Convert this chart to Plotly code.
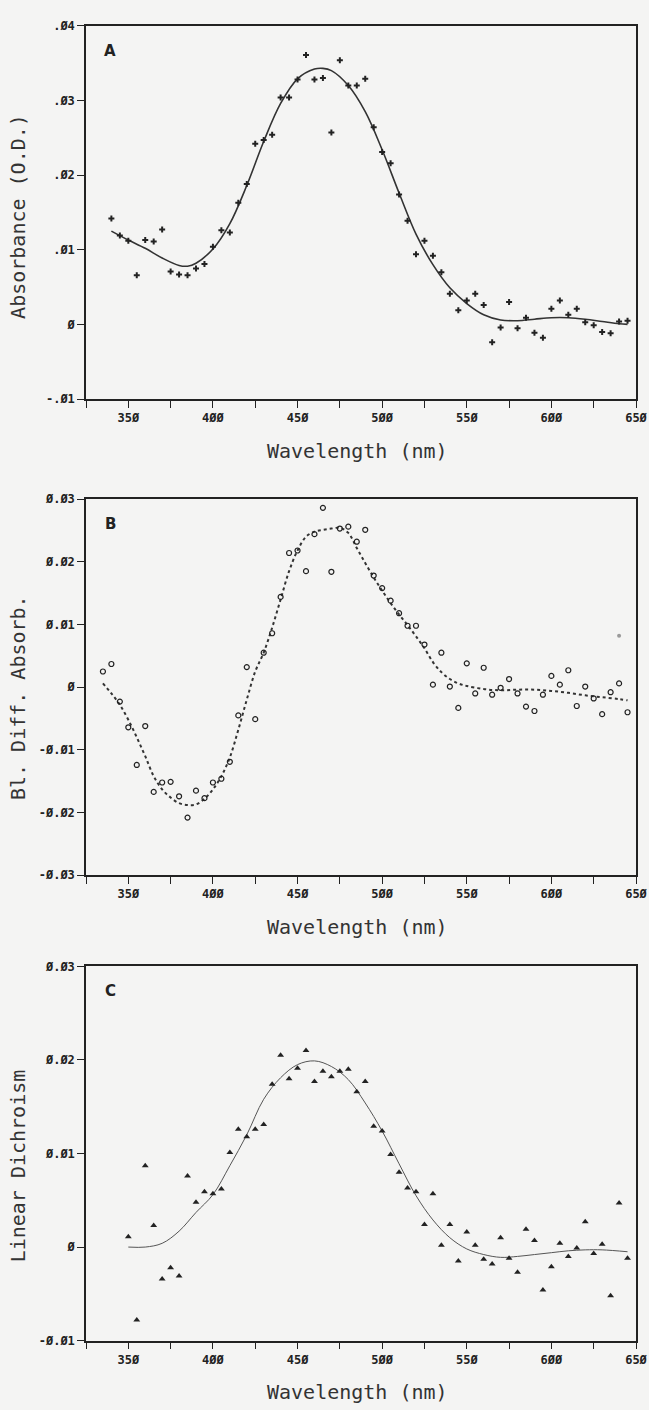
import plotly.graph_objects as go

# ---------------- data ----------------
A_WL = [340, 345, 350, 355, 360, 365, 370, 375, 380, 385, 390, 395, 400, 405, 410, 415,
        420, 425, 430, 435, 440, 445, 450, 455, 460, 465, 470, 475, 480, 485, 490, 495,
        500, 505, 510, 515, 520, 525, 530, 535, 540, 545, 550, 555, 560, 565, 570, 575,
        580, 585, 590, 595, 600, 605, 610, 615, 620, 625, 630, 635, 640, 645]
A_ABS = [0.0142, 0.0119, 0.0112, 0.0066, 0.0113, 0.0111, 0.0127, 0.0071, 0.0067, 0.0066,
         0.0075, 0.0081, 0.0104, 0.0126, 0.0123, 0.0163, 0.0188, 0.0242, 0.0247, 0.0254,
         0.0304, 0.0304, 0.0328, 0.0361, 0.0328, 0.0330, 0.0257, 0.0354, 0.0320, 0.0320,
         0.0329, 0.0264, 0.0231, 0.0216, 0.0174, 0.0139, 0.0094, 0.0112, 0.0092, 0.0070,
         0.0041, 0.0019, 0.0032, 0.0041, 0.0026, -0.0024, -0.0004, 0.0030, -0.0005, 0.0009,
         -0.0011, -0.0018, 0.0021, 0.0032, 0.0013, 0.0021, 0.0003, -0.0001, -0.0010, -0.0012,
         0.0004, 0.0005]
A_FIT_WL = [340, 350, 360, 370, 380, 385, 390, 400, 410, 420, 430, 440, 450, 460, 465, 470,
            480, 490, 500, 510, 520, 530, 540, 550, 560, 570, 580, 590, 600, 610, 620, 630,
            640, 645]
A_FIT = [0.0125, 0.0113, 0.0102, 0.0089, 0.0079, 0.0078, 0.0082, 0.0101, 0.0135, 0.0186,
         0.0245, 0.0296, 0.0329, 0.0342, 0.0343, 0.0340, 0.0320, 0.0285, 0.0234, 0.0176,
         0.0121, 0.0080, 0.0049, 0.0028, 0.0013, 0.0006, 0.0005, 0.0007, 0.0009, 0.0009,
         0.0007, 0.0004, 0.0001, 0.0000]

B_WL = [335, 340, 345, 350, 355, 360, 365, 370, 375, 380, 385, 390, 395, 400, 405, 410,
        415, 420, 425, 430, 435, 440, 445, 450, 455, 460, 465, 470, 475, 480, 485, 490,
        495, 500, 505, 510, 515, 520, 525, 530, 535, 540, 545, 550, 555, 560, 565, 570,
        575, 580, 585, 590, 595, 600, 605, 610, 615, 620, 625, 630, 635, 640, 645]
B_ABS = [0.0025, 0.0037, -0.0023, -0.0064, -0.0124, -0.0062, -0.0167, -0.0152, -0.0151,
         -0.0174, -0.0208, -0.0165, -0.0177, -0.0152, -0.0146, -0.0119, -0.0045, 0.0032,
         -0.0051, 0.0055, 0.0086, 0.0144, 0.0214, 0.0218, 0.0185, 0.0244, 0.0286, 0.0184,
         0.0253, 0.0256, 0.0232, 0.0251, 0.0178, 0.0158, 0.0138, 0.0118, 0.0098, 0.0098,
         0.0068, 0.0004, 0.0055, 0.0001, -0.0033, 0.0038, -0.0010, 0.0031, -0.0012, -0.0001,
         0.0013, -0.0010, -0.0031, -0.0038, -0.0012, 0.0018, 0.0004, 0.0027, -0.0030, 0.0001,
         -0.0018, -0.0043, -0.0008, 0.0006, -0.0040]
B_STRAY_WL = [640]
B_STRAY = [0.0082]
B_FIT_WL = [335, 340, 345, 350, 355, 360, 365, 370, 375, 380, 385, 390, 395, 400, 405, 410,
            415, 420, 425, 430, 435, 440, 445, 450, 455, 460, 465, 470, 475, 480, 485, 490,
            495, 500, 505, 510, 515, 520, 525, 530, 535, 540, 545, 550, 560, 570, 580, 590,
            600, 610, 620, 630, 640, 645]
B_FIT = [0.0006, -0.0010, -0.0028, -0.0052, -0.0080, -0.0110, -0.0142, -0.0163, -0.0176,
         -0.0185, -0.0188, -0.0187, -0.0178, -0.0163, -0.0142, -0.0112, -0.0068, -0.0020,
         0.0025, 0.0055, 0.0095, 0.0140, 0.0185, 0.0218, 0.0240, 0.0248, 0.0251, 0.0253,
         0.0254, 0.0246, 0.0222, 0.0198, 0.0175, 0.0154, 0.0134, 0.0116, 0.0099, 0.0081,
         0.0062, 0.0040, 0.0024, 0.0013, 0.0006, 0.0002, -0.0003, -0.0005, -0.0004, -0.0004,
         -0.0006, -0.0009, -0.0013, -0.0016, -0.0019, -0.0021]

C_WL = [350, 355, 360, 365, 370, 375, 380, 385, 390, 395, 400, 405, 410, 415, 420, 425,
        430, 435, 440, 445, 450, 455, 460, 465, 470, 475, 480, 485, 490, 495, 500, 505,
        510, 515, 520, 525, 530, 535, 540, 545, 550, 555, 560, 565, 570, 575, 580, 585,
        590, 595, 600, 605, 610, 615, 620, 625, 630, 635, 640, 645]
C_LD = [0.0011, -0.0078, 0.0087, 0.0023, -0.0034, -0.0022, -0.0031, 0.0076, 0.0048, 0.0059,
        0.0057, 0.0062, 0.0101, 0.0126, 0.0118, 0.0126, 0.0131, 0.0174, 0.0205, 0.0180,
        0.0191, 0.0210, 0.0177, 0.0188, 0.0182, 0.0188, 0.0190, 0.0166, 0.0177, 0.0129,
        0.0124, 0.0099, 0.0080, 0.0063, 0.0059, 0.0024, 0.0057, 0.0002, 0.0024, -0.0015,
        0.0016, 0.0002, -0.0013, -0.0018, 0.0010, -0.0012, -0.0027, 0.0019, 0.0007, -0.0046,
        -0.0021, 0.0004, -0.0010, -0.0001, 0.0027, -0.0007, 0.0003, -0.0052, 0.0047, -0.0012]
C_FIT_WL = [350, 360, 370, 380, 390, 400, 410, 420, 430, 440, 450, 460, 470, 480, 490, 500,
            510, 520, 530, 540, 550, 560, 570, 580, 590, 600, 610, 620, 630, 645]
C_FIT = [0.0000, 0.0000, 0.0004, 0.0017, 0.0037, 0.0056, 0.0087, 0.0120, 0.0158, 0.0181,
         0.0195, 0.0199, 0.0193, 0.0179, 0.0154, 0.0124, 0.0089, 0.0055, 0.0029, 0.0010,
         -0.0002, -0.0008, -0.0011, -0.0010, -0.0008, -0.0006, -0.0004, -0.0003, -0.0003,
         -0.0005]

X_TICKS = [325, 350, 375, 400, 425, 450, 475, 500, 525, 550, 575, 600, 625, 650]
X_TICKTEXT = ["", "35Ø", "", "4ØØ", "", "45Ø", "", "5ØØ", "", "55Ø", "", "6ØØ", "", "65Ø"]
X_RANGE = [325, 650]

A_YTICKS = [-0.01, 0, 0.01, 0.02, 0.03, 0.04]
A_YTEXT = ["-.Ø1", "Ø", ".Ø1", ".Ø2", ".Ø3", ".Ø4"]
B_YTICKS = [-0.03, -0.02, -0.01, 0, 0.01, 0.02, 0.03]
B_YTEXT = ["-Ø.Ø3", "-Ø.Ø2", "-Ø.Ø1", "Ø", "Ø.Ø1", "Ø.Ø2", "Ø.Ø3"]
C_YTICKS = [-0.01, 0, 0.01, 0.02, 0.03]
C_YTEXT = ["-Ø.Ø1", "Ø", "Ø.Ø1", "Ø.Ø2", "Ø.Ø3"]

X_TITLE = "Wavelength (nm)"
Y_TITLES = ["Absorbance (O.D.)", "Bl. Diff. Absorb.", "Linear Dichroism"]
PANEL_LABELS = ["A", "B", "C"]

# ---------------- layout geometry ----------------
W, H = 649, 1410
ML, MR = 86, 13
PW = W - ML - MR


def py(px):
    return 1 - px / H


def pxx(px):
    return (px - ML) / PW


BG = "#f4f4f3"
INK = "#222222"
TICKFONT = dict(family="DejaVu Sans Mono", size=12, color=INK, weight="bold")
TITLEFONT = dict(family="DejaVu Sans Mono", size=20, color="#333333")

fig = go.Figure()

# Panel A
fig.add_trace(go.Scatter(x=A_FIT_WL, y=A_FIT, mode="lines", line=dict(color="#333333", width=1.6, shape="spline"),
                         xaxis="x", yaxis="y", showlegend=False))
fig.add_trace(go.Scatter(x=A_WL, y=A_ABS, mode="markers",
                         marker=dict(symbol="cross", size=5, color=INK),
                         xaxis="x", yaxis="y", showlegend=False))
# Panel B
fig.add_trace(go.Scatter(x=B_FIT_WL, y=B_FIT, mode="lines",
                         line=dict(color="#333333", width=2, dash="dot", shape="spline"),
                         xaxis="x2", yaxis="y2", showlegend=False))
fig.add_trace(go.Scatter(x=B_WL, y=B_ABS, mode="markers",
                         marker=dict(symbol="circle-open", size=5, color=INK, line=dict(width=1.2, color=INK)),
                         xaxis="x2", yaxis="y2", showlegend=False))
fig.add_trace(go.Scatter(x=B_STRAY_WL, y=B_STRAY, mode="markers",
                         marker=dict(symbol="circle", size=4, color="#9a9a9a"),
                         xaxis="x2", yaxis="y2", showlegend=False))
# Panel C
fig.add_trace(go.Scatter(x=C_FIT_WL, y=C_FIT, mode="lines", line=dict(color="#555555", width=1, shape="spline"),
                         xaxis="x3", yaxis="y3", showlegend=False))
fig.add_trace(go.Scatter(x=C_WL, y=C_LD, mode="markers",
                         marker=dict(symbol="triangle-up", size=6, color=INK),
                         xaxis="x3", yaxis="y3", showlegend=False))

domains = [(19, 396), (497, 877), (969, 1347)]
ytitle_centers = [212, 698, 1171]
yticks = [(A_YTICKS, A_YTEXT, [-0.01, 0.04]), (B_YTICKS, B_YTEXT, [-0.03, 0.03]),
          (C_YTICKS, C_YTEXT, [-0.01, 0.03])]

axis_common = dict(showgrid=False, zeroline=False, showline=True, linecolor=INK, linewidth=1.5,
                   mirror=True, ticks="outside", ticklen=7, tickwidth=1.3, tickcolor=INK,
                   tickfont=TICKFONT, ticklabeloverflow="allow")

layout = dict(width=W, height=H, margin=dict(l=ML, r=MR, t=0, b=0),
              paper_bgcolor=BG, plot_bgcolor=BG, showlegend=False)

annotations = []
for i, ((top, bot), (tv, tt, rng)) in enumerate(zip(domains, yticks)):
    sfx = "" if i == 0 else str(i + 1)
    layout["xaxis" + sfx] = dict(axis_common, domain=[0, 1], range=X_RANGE, tickmode="array",
                                 tickvals=X_TICKS, ticktext=X_TICKTEXT,
                                 anchor="y" + sfx)
    layout["yaxis" + sfx] = dict(axis_common, domain=[py(bot), py(top)], range=rng, tickmode="array",
                                 tickvals=tv, ticktext=tt, anchor="x" + sfx)
    # x title
    annotations.append(dict(text=X_TITLE, xref="paper", yref="paper", x=pxx(357), y=py(bot + 52),
                            xanchor="center", yanchor="middle", showarrow=False, font=TITLEFONT))
    # y title
    annotations.append(dict(text=Y_TITLES[i], xref="paper", yref="paper", x=pxx(18),
                            y=py(ytitle_centers[i]), xanchor="center", yanchor="middle",
                            textangle=-90, showarrow=False, font=TITLEFONT))
    # panel letter
    annotations.append(dict(text=PANEL_LABELS[i], xref="paper", yref="paper", x=pxx(110),
                            y=py(top + 25), xanchor="center", yanchor="middle", showarrow=False,
                            font=dict(family="DejaVu Sans", size=15, color=INK, weight="bold")))

layout["annotations"] = annotations
fig.update_layout(**layout)
fig.write_html("out.html",
               config={"displayModeBar": False},
               post_script="document.body.style.margin='0';document.body.style.padding='0';"
                           "document.body.style.background='#f4f4f3';")
